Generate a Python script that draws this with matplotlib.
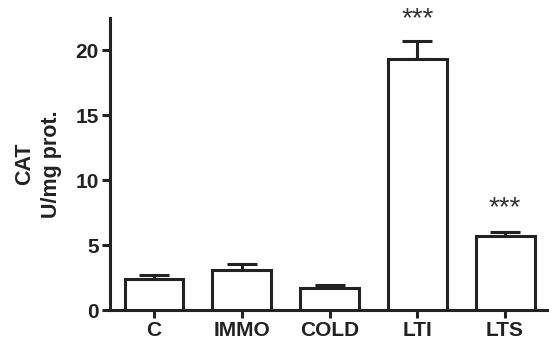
import matplotlib
matplotlib.use("Agg")
import matplotlib.pyplot as plt

categories = ["C", "IMMO", "COLD", "LTI", "LTS"]
means = [2.37, 3.07, 1.70, 19.36, 5.74]
errors = [0.31, 0.48, 0.25, 1.34, 0.26]
stars = ["", "", "", "***", "***"]
star_y = [0, 0, 0, 21.9, 7.3]

plt.rcParams['font.family'] = ['Liberation Sans', 'DejaVu Sans']
fig = plt.figure(figsize=(5.49, 3.47), dpi=100)
ax = fig.add_axes([0.2004, 0.1066, 0.7996, 0.8414])
lw = 2.2
x = list(range(len(categories)))
ax.bar(x, means, width=0.67, color='white', edgecolor='#222222', linewidth=lw, zorder=3)
ax.errorbar(x, means, yerr=[[0]*len(errors), errors], fmt='none', ecolor='#222222',
            elinewidth=lw, capsize=11, capthick=lw, zorder=2)
for xi, s, sy in zip(x, stars, star_y):
    if s:
        ax.text(xi, sy, s, ha='center', va='baseline', fontsize=20, color='#333333', clip_on=False)
ax.set_xlim(-0.5, 4.5)
ax.set_ylim(0, 22.5)
ax.set_yticks([0, 5, 10, 15, 20])
ax.set_xticks(x)
ax.set_xticklabels(categories)
for sp in ['top', 'right']:
    ax.spines[sp].set_visible(False)
for sp in ['left', 'bottom']:
    ax.spines[sp].set_linewidth(lw)
    ax.spines[sp].set_color('#222222')
ax.tick_params(width=lw, length=6, color='#222222', labelsize=15, pad=2)
for lab in ax.get_xticklabels() + ax.get_yticklabels():
    lab.set_fontweight('bold')
    lab.set_color('#222222')
ax.set_ylabel("CAT\nU/mg prot.", fontsize=15.5, fontweight='bold', color='#222222', labelpad=10, linespacing=1.35)
fig.savefig("out.png", dpi=100)
